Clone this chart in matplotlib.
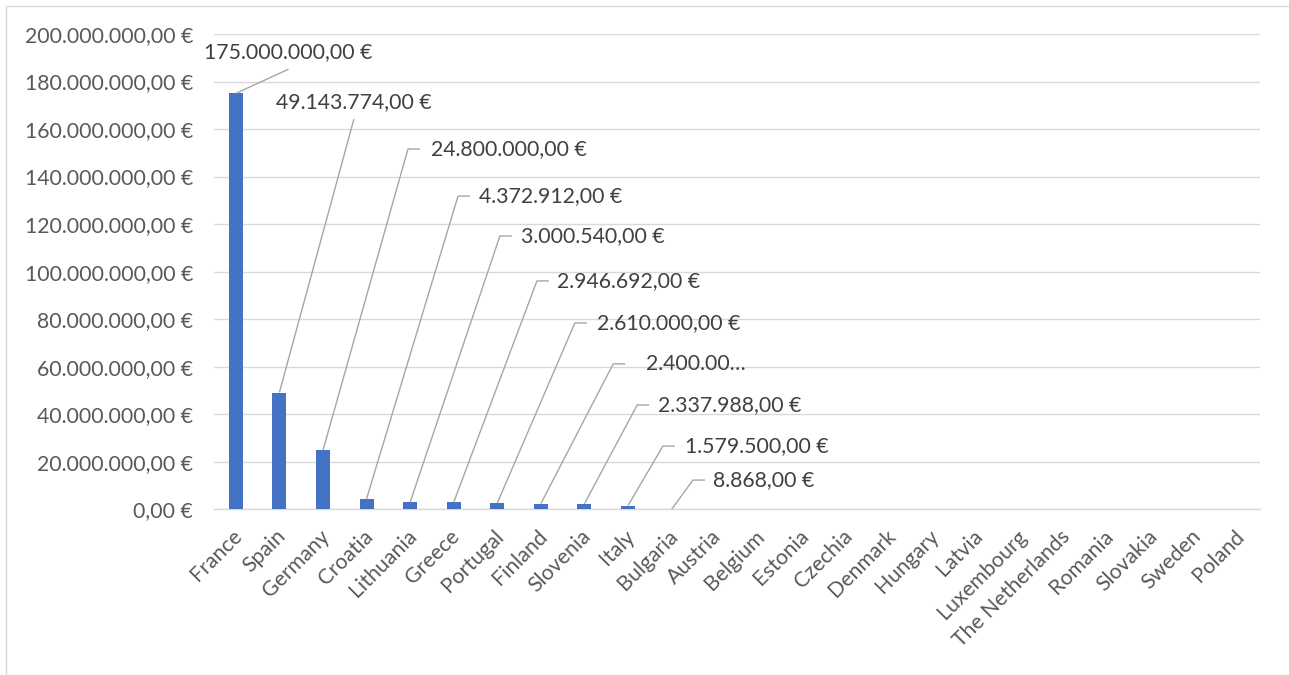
import matplotlib
matplotlib.use("Agg")
import matplotlib.pyplot as plt
from matplotlib.patches import Rectangle
from matplotlib.ticker import FuncFormatter, MultipleLocator
from matplotlib.transforms import ScaledTranslation

countries = ["France", "Spain", "Germany", "Croatia", "Lithuania", "Greece",
             "Portugal", "Finland", "Slovenia", "Italy", "Bulgaria", "Austria",
             "Belgium", "Estonia", "Czechia", "Denmark", "Hungary", "Latvia",
             "Luxembourg", "The Netherlands", "Romania", "Slovakia", "Sweden",
             "Poland"]
amounts = [175000000.00, 49143774.00, 24800000.00, 4372912.00, 3000540.00,
           2946692.00, 2610000.00, 2400000.00, 2337988.00, 1579500.00,
           8868.00, 0, 0, 0, 0, 0, 0, 0, 0, 0, 0, 0, 0, 0]

# Label placement for the callouts: (elbow x, elbow y in euros), text gap in px
callout_top = {0: (1.21, 185.2e6), 1: (2.71, 164.2e6)}
callout_elbow = {2: (3.95, 151.6e6, 23), 3: (5.10, 131.8e6, 21),
                 4: (6.06, 115.0e6, 21), 5: (6.91, 96.1e6, 20),
                 6: (7.78, 78.4e6, 22), 7: (8.66, 61.2e6, 33),
                 8: (9.21, 43.9e6, 21), 9: (9.80, 26.6e6, 22),
                 10: (10.49, 12.3e6, 20)}
truncated = {7: 8}

BAR = "#4472C4"
GRID = "#D9D9D9"
LEADER = "#A6A6A6"
TICK_TXT = "#595959"
LABEL_TXT = "#404040"
FONT = "Lato"
FS = 15.3


def euro(v, pos=None):
    s = f"{v:,.2f}"
    s = s.replace(",", "X").replace(".", ",").replace("X", ".")
    return s + " €"


fig = plt.figure(figsize=(12.89, 6.75), dpi=100)
W, H = 1289, 675
ax = fig.add_axes([214 / W, (H - 509.3) / H, (1260 - 214) / W, (509.3 - 34) / H])

x = list(range(len(countries)))
ax.bar(x, amounts, width=0.32, color=BAR, zorder=3)

ax.set_xlim(-0.5, len(countries) - 0.5)
ax.set_ylim(0, 200e6)
ax.yaxis.set_major_locator(MultipleLocator(20e6))
ax.yaxis.set_major_formatter(FuncFormatter(euro))
ax.grid(axis="y", color=GRID, linewidth=1.0, zorder=0)
for sp in ["top", "right", "left"]:
    ax.spines[sp].set_visible(False)
ax.spines["bottom"].set_color(GRID)
ax.spines["bottom"].set_linewidth(1.0)
ax.tick_params(axis="y", length=0, pad=15, labelsize=FS, labelcolor=TICK_TXT)
ax.tick_params(axis="x", length=0, pad=12, labelsize=FS, labelcolor=TICK_TXT)
for t in ax.get_yticklabels():
    t.set_fontfamily(FONT)

ax.set_xticks(x)
ax.set_xticklabels(countries, rotation=45, ha="right", rotation_mode="anchor",
                   fontfamily=FONT)
shift = ScaledTranslation(-4 / 100, 0, fig.dpi_scale_trans)
for t in ax.get_xticklabels():
    t.set_transform(t.get_transform() + shift)

px_x = (1260 - 214) / len(countries)  # pixels per category

for i, v in enumerate(amounts):
    if i in callout_top:
        ex, ey = callout_top[i]
        ax.plot([i, ex], [v, ey], color=LEADER, lw=1.0, zorder=4,
                solid_capstyle="butt")
        ax.text(ex, ey + 7.2e6, euro(v), ha="center", va="center",
                fontsize=FS, color=LABEL_TXT, fontfamily=FONT, zorder=5)
    elif i in callout_elbow:
        ex, ey, gap = callout_elbow[i]
        hx = ex + 12 / px_x
        ax.plot([i, ex, hx], [v, ey, ey], color=LEADER, lw=1.0, zorder=4,
                solid_capstyle="butt")
        txt = euro(v)
        if i in truncated:
            txt = txt[:truncated[i]] + "…"
        ax.text(ex + gap / px_x, ey, txt, ha="left", va="center",
                fontsize=FS, color=LABEL_TXT, fontfamily=FONT, zorder=5)

# chart-area frame
fig.patches.append(Rectangle((5.5 / W, -0.05), 1.1, (H - 5.5) / H + 0.05,
                             transform=fig.transFigure, fill=False,
                             edgecolor=GRID, linewidth=1.0))

fig.savefig("out.png", dpi=100, facecolor="white")
